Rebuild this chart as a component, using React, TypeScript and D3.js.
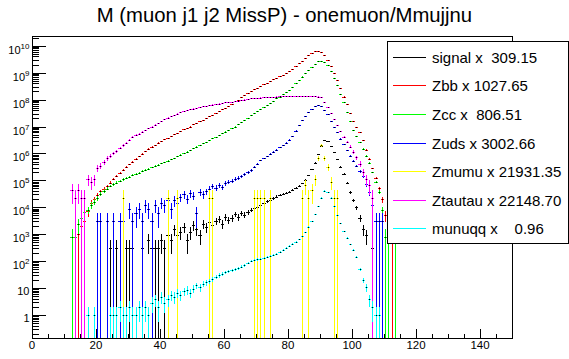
import React from 'react';
import * as d3 from 'd3';

const W = 569;
const H = 359;
const titleText = 'M (muon j1 j2 MissP) - onemuon/Mmujjnu';
const xDomain: [number, number] = [0, 150];
const yDomain: [number, number] = [0.14, 2.3e10];
const xMajorTicks = [0, 20, 40, 60, 80, 100, 120, 140];

const seriesNames = ['signal', 'Zbb', 'Zcc', 'Zuds', 'Zmumu', 'Ztautau', 'munuqq'];
const seriesScales = [309.15, 1027.65, 806.51, 3002.66, 21931.35, 22148.7, 0.96];
const seriesColors = ['#000000', '#ff0000', '#00ff00', '#0000ff', '#ffff00', '#ff00ff', '#00ffff'];

// bin contents (bin width 1 GeV), first bin index given by *Start
const signalStart = 24;
const signalValues = [310, 0, 310, 0, 0, 310, 310, 310, 0, 0, 310, 0, 620, 310, 310, 310, 620, 310, 930, 620,
  1550, 930, 1240, 1860, 620, 1240, 2170, 1550, 930, 2480, 1860, 2790, 2170, 3100, 3720, 2480, 4340, 3410,
  4030, 5580, 4340, 6200, 5270, 6800, 8000, 9300, 1.05e4, 1.25e4, 1.4e4, 1.7e4, 1.9e4, 2.15e4, 2.5e4, 2.85e4,
  3.1e4, 3.4e4, 3.8e4, 4.3e4, 5.1e4, 6.2e4, 7.7e4, 1.05e5, 1.55e5, 2.6e5, 4.6e5, 9.3e5, 1.95e6, 3.1e6, 2.8e6,
  1.9e6, 1.1e6, 6.3e5, 3.2e5, 1.8e5, 7.9e4, 3.6e4, 1.8e4, 9900, 4000, 1550, 930, 0, 310];

const zbbStart = 14;
const zbbValues = [1030, 2060, 3090, 7200, 1.4e4, 2.1e4, 2.9e4, 3.9e4, 4.8e4, 6.0e4, 8.2e4, 1.1e5, 1.45e5,
  1.9e5, 2.5e5, 3.1e5, 3.9e5, 4.9e5, 6.3e5, 7.9e5, 9.8e5, 1.2e6, 1.5e6, 1.8e6, 2.1e6, 2.5e6, 2.9e6, 3.3e6,
  3.8e6, 4.4e6, 5.1e6, 5.9e6, 6.8e6, 7.8e6, 8.9e6, 1.0e7, 1.2e7, 1.3e7, 1.55e7, 1.8e7, 2.0e7, 2.4e7, 2.75e7,
  3.2e7, 3.7e7, 4.3e7, 5.0e7, 5.9e7, 7.1e7, 8.5e7, 1.0e8, 1.2e8, 1.45e8, 1.75e8, 2.1e8, 2.45e8, 2.8e8, 3.2e8,
  3.7e8, 4.3e8, 4.9e8, 5.6e8, 6.5e8, 7.4e8, 8.5e8, 9.8e8, 1.15e9, 1.4e9, 1.7e9, 2.2e9, 2.75e9, 3.5e9, 4.4e9,
  5.2e9, 6.2e9, 6.5e9, 5.75e9, 4.4e9, 3.0e9, 1.8e9, 1.0e9, 5.2e8, 2.6e8, 1.3e8, 6.6e7, 3.2e7, 1.6e7, 9.5e6,
  6.3e6, 3.2e6, 1.4e6, 6.3e5, 2.8e5, 1.26e5, 5.0e4, 2.0e4, 5100, 1030, 1030];

const zccStart = 12;
const zccValues = [807, 807, 2420, 4030, 6450, 8070, 1.2e4, 1.6e4, 2.2e4, 3.2e4, 4.0e4, 4.8e4, 6.2e4, 7.2e4,
  8.3e4, 9.5e4, 1.08e5, 1.2e5, 1.38e5, 1.55e5, 1.72e5, 1.95e5, 2.2e5, 2.5e5, 2.75e5, 3.05e5, 3.4e5, 3.8e5,
  4.3e5, 4.8e5, 5.4e5, 6.0e5, 6.8e5, 7.8e5, 9.0e5, 1.03e6, 1.18e6, 1.35e6, 1.55e6, 1.8e6, 2.05e6, 2.35e6,
  2.7e6, 3.1e6, 3.6e6, 4.2e6, 4.8e6, 5.6e6, 6.5e6, 7.6e6, 8.9e6, 1.0e7, 1.2e7, 1.45e7, 1.75e7, 2.1e7, 2.6e7,
  3.1e7, 3.7e7, 4.4e7, 5.2e7, 6.3e7, 7.6e7, 9.1e7, 1.1e8, 1.3e8, 1.6e8, 1.9e8, 2.3e8, 3.0e8, 4.0e8, 5.4e8,
  7.2e8, 9.5e8, 1.25e9, 1.6e9, 2.1e9, 2.7e9, 2.8e9, 2.45e9, 1.9e9, 1.2e9, 6.5e8, 3.4e8, 1.6e8, 7.9e7, 3.5e7,
  1.6e7, 7.6e6, 4.5e6, 2.6e6, 1.5e6, 8.3e5, 4.5e5, 2.0e5, 8.9e4, 3.8e4, 8070, 807, 807, 0, 807];

const zudsStart = 20;
const zudsValues = [3003, 3003, 0, 3003, 0, 3003, 0, 3003, 3003, 0, 9008, 3003, 6005, 9008, 3003, 1.2e4, 9008,
  3003, 1.2e4, 6005, 1.5e4, 1.2e4, 1.8e4, 9008, 1.8e4, 1.5e4, 2.4e4, 3.0e4, 2.1e4, 3.3e4, 2.7e4, 6005, 3.6e4,
  3.0e4, 3.9e4, 4.8e4, 6.0e4, 5.4e4, 6.6e4, 5.7e4, 7.8e4, 9.0e4, 9.5e4, 1.1e5, 1.25e5, 1.4e5, 1.7e5, 2.0e5,
  2.4e5, 3.1e5, 4.0e5, 5.5e5, 6.6e5, 7.9e5, 9.5e5, 1.15e6, 1.4e6, 1.7e6, 2.0e6, 2.5e6, 3.2e6, 4.5e6, 7.1e6,
  1.1e7, 1.7e7, 2.5e7, 3.5e7, 4.6e7, 5.6e7, 6.2e7, 5.6e7, 4.2e7, 2.8e7, 1.6e7, 9.5e6, 6.0e6, 3.5e6, 2.2e6,
  1.3e6, 8.3e5, 5.2e5, 3.5e5, 2.2e5, 1.4e5, 7.1e4, 3.6e4, 1.2e4, 3003, 3003, 3003];

const zmumuStart = 28;
const zmumuValues = [21931, 0, 0, 0, 0, 0, 0, 0, 0, 0, 0, 0, 0, 0, 21931, 0, 0, 21931, 0, 0, 0, 0, 0, 0, 0, 0,
  0, 21931, 21931, 0, 0, 0, 0, 0, 0, 0, 0, 0, 0, 0, 0, 21931, 21931, 21931, 21931, 0, 21931, 0, 0, 0, 0, 0, 0,
  0, 0, 0, 21931, 65800, 21931, 43900, 1.1e5, 6.6e5, 2.0e6, 6.6e5, 3.1e5, 8.8e4, 21931, 21931];

const ztautauStart = 12;
const ztautauValues = [4.43e4, 2.215e4, 4.43e4, 2.215e4, 2.215e4, 1.1e5, 8.86e4, 1.1e5, 2.9e5, 3.5e5, 4.7e5,
  6.6e5, 8.1e5, 1.0e6, 1.2e6, 1.6e6, 2.0e6, 2.5e6, 3.2e6, 4.2e6, 4.8e6, 5.5e6, 6.3e6, 7.2e6, 8.5e6, 1.0e7,
  1.15e7, 1.35e7, 1.6e7, 1.9e7, 2.15e7, 2.4e7, 2.7e7, 3.0e7, 3.4e7, 3.7e7, 4.0e7, 4.3e7, 4.6e7, 4.9e7, 5.2e7,
  5.6e7, 5.9e7, 6.2e7, 6.5e7, 6.8e7, 7.1e7, 7.4e7, 7.8e7, 8.1e7, 8.3e7, 8.7e7, 9.1e7, 9.5e7, 1.0e8, 1.05e8,
  1.1e8, 1.12e8, 1.15e8, 1.18e8, 1.2e8, 1.23e8, 1.26e8, 1.28e8, 1.3e8, 1.32e8, 1.33e8, 1.35e8, 1.36e8, 1.38e8,
  1.38e8, 1.38e8, 1.38e8, 1.38e8, 1.37e8, 1.36e8, 1.33e8, 1.3e8, 1.2e8, 8.3e7, 5.2e7, 3.2e7, 1.9e7, 1.1e7,
  6.6e6, 4.2e6, 2.7e6, 1.8e6, 1.15e6, 7.1e5, 4.3e5, 2.0e5, 1.1e5, 6.6e4, 2.215e4];

const munuqqStart = 17;
const munuqqValues = [1, 0, 1, 0, 0, 0, 0, 1, 1, 1, 2, 1, 1, 2, 1, 1, 2, 1, 2, 1, 3, 4, 2, 5, 3, 4, 6, 5, 7, 6,
  8, 9, 7, 10, 12, 11, 14, 16, 18, 21, 26, 30, 34, 38, 42, 45, 50, 56, 62, 70, 85, 100, 110, 115, 120, 130,
  140, 155, 170, 190, 220, 260, 310, 370, 440, 520, 640, 850, 1200, 1900, 3000, 5500, 1.1e4, 2.3e4, 4.2e4,
  3.8e4, 2.3e4, 1.1e4, 5200, 2600, 1300, 750, 420, 260, 140, 50, 20, 11, 4, 2, 1, 1];

const seriesStarts = [signalStart, zbbStart, zccStart, zudsStart, zmumuStart, ztautauStart, munuqqStart];
const seriesValues = [signalValues, zbbValues, zccValues, zudsValues, zmumuValues, ztautauValues, munuqqValues];

const FONT = '"Liberation Sans", Arial, Helvetica, sans-serif';
const pix = (v: number) => Math.round(v) + 0.5;

export default function App() {
  const left = 32, right = 512, top = 36, bottom = 338;
  const x = d3.scaleLinear().domain(xDomain).range([left, right]);
  const y = d3.scaleLog().domain(yDomain).range([bottom, top]);

  const marks: React.ReactNode[] = [];
  seriesNames.forEach((name, si) => {
    const S = seriesScales[si];
    const col = seriesColors[si];
    const start = seriesStarts[si];
    seriesValues[si].forEach((v, j) => {
      if (!(v > 0)) return;
      const bin = start + j;
      const N = Math.max(1, Math.round(v / S));
      const val = N * S;
      const err = Math.sqrt(N) * S;
      const x0 = Math.round(x(bin)), x1 = Math.round(x(bin + 1));
      const xc = Math.floor(x(bin + 0.5)) + 0.5;
      const yc = pix(y(val));
      const lo = val - err;
      const yLo = lo > yDomain[0] ? Math.min(bottom, Math.round(y(lo))) : bottom;
      const yHi = Math.max(top, Math.round(y(val + err)));
      marks.push(
        <g key={`${name}-${bin}`}>
          <line x1={x0} x2={x1} y1={yc} y2={yc} stroke={col} strokeWidth={1} />
          <line x1={xc} x2={xc} y1={yLo} y2={yHi} stroke={col} strokeWidth={1} />
          <rect x={xc - 0.5} y={yc - 0.5} width={1} height={1} fill="#000" />
        </g>
      );
    });
  });

  const yMajor = d3.range(0, 11).map((k) => Math.pow(10, k));
  const yMinor: number[] = [];
  for (let k = -1; k <= 10; k++) {
    for (let m = 2; m <= 9; m++) {
      const v = m * Math.pow(10, k);
      if (v > yDomain[0] && v < yDomain[1]) yMinor.push(v);
    }
  }
  const xMinor = d3.range(0, 151, 5).filter((v) => v % 20 !== 0);

  return (
    <svg width={W} height={H} style={{ position: 'fixed', left: 0, top: 0, background: '#fff' }}
      fontFamily={FONT} shapeRendering="crispEdges">
      <rect x={0} y={0} width={W} height={H} fill="#fff" />
      <defs>
        <clipPath id="frameClip">
          <rect x={left} y={top} width={right - left} height={bottom - top} />
        </clipPath>
      </defs>
      <text x={284.5} y={22} textAnchor="middle" fontSize={20.3} fill="#000" shapeRendering="auto">{titleText}</text>
      <g clipPath="url(#frameClip)">{marks}</g>
      <rect x={left + 0.5} y={top + 0.5} width={right - left} height={bottom - top} fill="none" stroke="#000" strokeWidth={1} />
      {yMajor.map((v) => (
        <line key={`ym${v}`} x1={left} x2={left + 14} y1={pix(y(v))} y2={pix(y(v))} stroke="#000" />
      ))}
      {yMinor.map((v) => (
        <line key={`yn${v}`} x1={left} x2={left + 7} y1={pix(y(v))} y2={pix(y(v))} stroke="#000" />
      ))}
      {yMajor.map((v, k) => (
        k < 2 ? (
          <text key={`yl${k}`} x={29.5} y={y(v) + 6.5} textAnchor="end" fontSize={11} fill="#000">{k === 0 ? '1' : '10'}</text>
        ) : (
          <text key={`yl${k}`} x={29.5} y={y(v) + 8} textAnchor="end" fontSize={11} fill="#000">
            10<tspan dy={-5} fontSize={8}>{k}</tspan>
          </text>
        )
      ))}
      {xMajorTicks.map((v) => (
        <line key={`xm${v}`} x1={pix(x(v))} x2={pix(x(v))} y1={bottom} y2={bottom - 9} stroke="#000" />
      ))}
      {xMinor.map((v) => (
        <line key={`xn${v}`} x1={pix(x(v))} x2={pix(x(v))} y1={bottom} y2={bottom - 4.5} stroke="#000" />
      ))}
      {xMajorTicks.map((v) => (
        <text key={`xl${v}`} x={x(v)} y={348.5} textAnchor="middle" fontSize={11.5} fill="#000">{v}</text>
      ))}
      <rect x={387.5} y={41.5} width={181} height={202} fill="#fff" stroke="#000" strokeWidth={1} />
      {seriesNames.map((name, i) => {
        const ry = pix(56.7 + i * 28.6);
        const label = `${name} x ${seriesScales[i].toFixed(2).padStart(7, ' ')}`;
        return (
          <g key={`lg${name}`}>
            <line x1={393} x2={426} y1={ry} y2={ry} stroke={seriesColors[i]} strokeWidth={1} />
            <text x={432} y={ry + 5} fontSize={15} fill="#000" xmlSpace="preserve" style={{ whiteSpace: 'pre' }}>{label}</text>
          </g>
        );
      })}
    </svg>
  );
}
